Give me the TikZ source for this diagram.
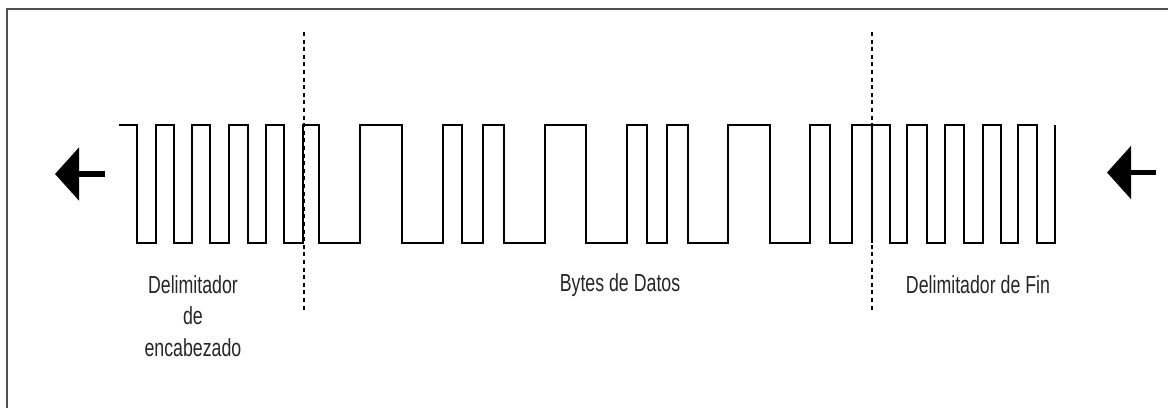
\documentclass[tikz,border=0pt]{standalone}
\usepackage{fontspec}
\newfontfamily\narrowsans[FakeStretch=0.72]{Liberation Sans}
\usetikzlibrary{arrows.meta}
\tikzset{every picture/.style={line width=0.75pt}}
\tikzset{
  signal/.style={line width=2, line join=miter},
  separator/.style={line width=0.9, dash pattern={on 3pt off 2.7pt}},
  bigarrow/.style={line width=4.2, -{Triangle[length=18pt,width=39pt]}},
  caption/.style={inner sep=0.75pt, align=center, font=\narrowsans\fontsize{18.5}{23.5}\selectfont, text=black!85}
}

\begin{document}
\begin{tikzpicture}[x=0.75pt,y=0.75pt,yscale=-1,xscale=1]
\path[use as bounding box] (0,0) rectangle (1168,408);

%Frame
\draw [color={rgb, 255:red, 80; green, 80; blue, 80 }, line width=1.5] (7,408) -- (7,9) -- (1168,9) ;

%Separators
\draw [separator] (304,32) -- (304,313) ;
\draw [separator] (872,32) -- (872,313) ;
\draw [line width=1.4] (872,125) -- (872,243) ;

%Signal
\draw [signal] (119,125)
  \foreach \xa/\xb in {137/156,174/192,210/229,248/266,284/303,319/360,402/443,462/483,504/545,586/627,647/667,688/728,770/810,830/852,890/907,927/945,964/983,1001/1018,1037/1055}
  { -- (\xa,125) -- (\xa,243) -- (\xb,243) -- (\xb,125) } ;

%Arrows
\coordinate (leftTail) at (105,174);
\coordinate (leftTip) at (55,174);
\coordinate (rightTail) at (1156,172.5);
\coordinate (rightTip) at (1107,172.5);
\draw [bigarrow] (leftTail) -- (leftTip) ;
\draw [bigarrow] (rightTail) -- (rightTip) ;

% Text Node
\draw (193,316) node [caption] (lblHead) {Delimitador\\de\\encabezado};
% Text Node
\draw (620,285) node [caption] (lblData) {Bytes de Datos};
% Text Node
\draw (978,285) node [caption] (lblEnd) {Delimitador de Fin};

\end{tikzpicture}
\end{document}
